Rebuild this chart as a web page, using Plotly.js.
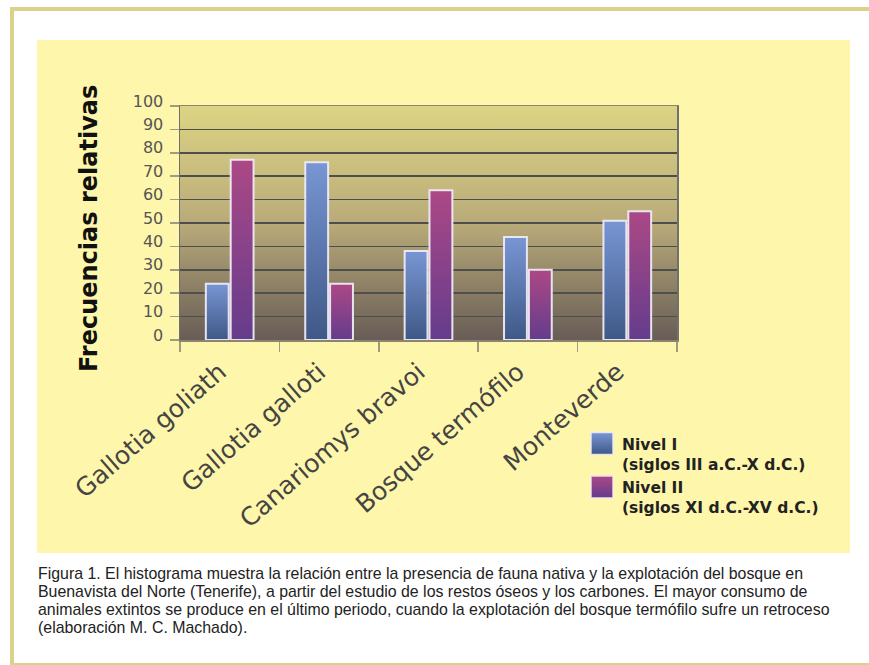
<!DOCTYPE html>
<html>
<head>
<meta charset="utf-8">
<script src="https://cdn.plot.ly/plotly-3.0.1.min.js"></script>
<style>
  html, body { margin: 0; padding: 0; background: #ffffff; width: 869px; height: 665px; overflow: hidden; }
  #frame { position: absolute; left: 10px; top: 7px; width: 880px; height: 652px; border: 4.5px solid #dad28a; box-sizing: content-box; }
  #panel { position: absolute; left: 37px; top: 40px; width: 813px; height: 513px; background: #fef6aa; }
  #chart { position: absolute; left: 0; top: 0; width: 869px; height: 665px; }
  #caption { position: absolute; left: 38px; top: 565px; width: 820px; font-family: "Liberation Sans", Arial, sans-serif; font-size: 15.9px; line-height: 18px; color: #222; white-space: nowrap; }
</style>
</head>
<body>
<div id="frame"></div>
<div id="panel"></div>
<div id="chart"></div>
<div id="caption">Figura 1. El histograma muestra la relación entre la presencia de fauna nativa y la explotación del bosque en<br>Buenavista del Norte (Tenerife), a partir del estudio de los restos óseos y los carbones. El mayor consumo de<br>animales extintos se produce en el último periodo, cuando la explotación del bosque termófilo sufre un retroceso<br>(elaboración M. C. Machado).</div>
<script>
const categories = ['Gallotia goliath', 'Gallotia galloti', 'Canariomys bravoi', 'Bosque termófilo', 'Monteverde'];
const nivel1 = [24, 76, 38, 44, 51];
const nivel2 = [77, 24, 64, 30, 55];
const seriesNames = ['Nivel I<br>(siglos III a.C.-X d.C.)', 'Nivel II<br>(siglos XI d.C.-XV d.C.)'];
const yTickVals = [0, 10, 20, 30, 40, 50, 60, 70, 80, 90, 100];
const yTitle = 'Frecuencias relativas';

const L = 180, R = 677, T = 106, B = 340;
const W = 869, H = 665;
const px2x = p => (p - L) / (R - L);
const px2y = p => (B - p) / (B - T);

const barLine = { color: 'rgba(238,234,246,0.95)', width: 2 };
const traces = [
  { type: 'bar', x: categories, y: nivel1, name: seriesNames[0], marker: { color: '#5a78b4', line: barLine } },
  { type: 'bar', x: categories, y: nivel2, name: seriesNames[1], marker: { color: '#8a3f8a', line: barLine } }
];

const layout = {
  width: W, height: H,
  margin: { l: L, r: W - R, t: T, b: H - B },
  paper_bgcolor: 'rgba(0,0,0,0)',
  plot_bgcolor: '#b0a475',
  barmode: 'group',
  bargap: 0.5,
  bargroupgap: 0.08,
  showlegend: true,
  legend: {
    x: px2x(582), y: px2y(427), xanchor: 'left', yanchor: 'top',
    bgcolor: 'rgba(0,0,0,0)', valign: 'top',
    font: { family: 'DejaVu Sans', size: 15.5, color: '#222', weight: 'bold' },
    tracegroupgap: 0
  },
  xaxis: {
    type: 'category',
    tickangle: -41,
    tickson: 'boundaries',
    ticks: 'outside', ticklen: 10, tickcolor: '#a09a80', tickwidth: 1.5,
    showline: true, linecolor: '#8a8470', linewidth: 1.5, mirror: true,
    showgrid: false,
    ticklabelstandoff: 6,
    ticklabelshift: -10,
    tickfont: { family: 'DejaVu Sans', size: 25, color: '#444' }
  },
  yaxis: {
    range: [0, 100],
    tickvals: yTickVals,
    ticks: 'outside', ticklen: 9, tickcolor: '#a09a80', tickwidth: 1.5,
    showline: true, linecolor: '#707070', linewidth: 1.5, mirror: true,
    showgrid: true, gridcolor: '#4e4e4e', gridwidth: 1.5,
    zeroline: false,
    ticklabelstandoff: 3,
    ticklabelshift: -5,
    tickfont: { family: 'DejaVu Sans', size: 16, color: '#555' }
  },
  annotations: [
    {
      text: yTitle, textangle: -90, showarrow: false,
      xref: 'paper', yref: 'paper', x: px2x(89), y: px2y(229), xanchor: 'center', yanchor: 'middle',
      font: { family: 'DejaVu Sans', size: 24, color: '#111', weight: 'bold' }
    }
  ]
};

function addGradient(svg, id, stops) {
  const ns = 'http://www.w3.org/2000/svg';
  let defs = svg.querySelector('defs');
  if (!defs) { defs = document.createElementNS(ns, 'defs'); svg.insertBefore(defs, svg.firstChild); }
  const g = document.createElementNS(ns, 'linearGradient');
  g.setAttribute('id', id);
  g.setAttribute('x1', '0'); g.setAttribute('y1', '0'); g.setAttribute('x2', '0'); g.setAttribute('y2', '1');
  stops.forEach(s => {
    const st = document.createElementNS(ns, 'stop');
    st.setAttribute('offset', s[0]);
    st.setAttribute('stop-color', s[1]);
    g.appendChild(st);
  });
  defs.appendChild(g);
}

Plotly.newPlot('chart', traces, layout, { displayModeBar: false, staticPlot: true }).then(gd => {
  const svg = gd.querySelector('svg.main-svg');
  addGradient(svg, 'gBg', [['0', '#dcd483'], ['0.5', '#b9ab79'], ['1', '#685c56']]);
  addGradient(svg, 'gBlue', [['0', '#7896d4'], ['1', '#3e5886']]);
  addGradient(svg, 'gMag', [['0', '#ac4886'], ['1', '#643c8c']]);
  const bg = svg.querySelector('.bglayer rect.bg') || svg.querySelector('rect.bg');
  if (bg) bg.style.fill = 'url(#gBg)';
  const barTraces = gd.querySelectorAll('g.trace.bars');
  const ids = ['gBlue', 'gMag'];
  barTraces.forEach((t, i) => {
    t.querySelectorAll('path').forEach(p => { p.style.fill = 'url(#' + ids[i] + ')'; });
  });
  const legendItems = gd.querySelectorAll('g.legend g.traces');
  legendItems.forEach((it, i) => {
    it.querySelectorAll('g.legendpoints path').forEach(p => {
      p.setAttribute('d', 'M11,11H-11V-11H11Z');
      p.style.fill = 'url(#' + ids[i] + ')';
      p.style.stroke = 'rgba(238,234,246,0.95)';
      p.style.strokeWidth = '1.5px';
    });
  });
});
</script>
</body>
</html>
